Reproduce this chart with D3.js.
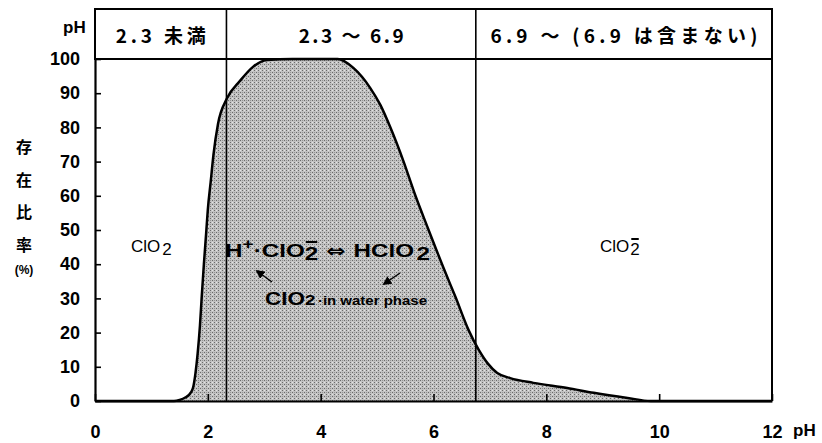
<!DOCTYPE html>
<html>
<head>
	<meta charset="utf-8">
	<title> ClO2 ratio </title>
	<script src="https://d3js.org/d3.v7.min.js"></script>
	<style>
		body { margin: 0; background: #fff; }
		svg { display: block; }
		text { font-family: "Liberation Sans", Arial, sans-serif; }
		.jp { font-family: "Noto Sans CJK JP", sans-serif; }
	</style>
</head>
<body>
	<svg width="822" height="443"></svg>
	<script type="text/javascript">
		// values
		let phValues    = [0, 1.0, 1.4, 1.5, 1.6, 1.7, 1.74, 1.78, 1.82, 1.86, 1.89, 1.93, 1.97, 2.0, 2.05, 2.1, 2.18, 2.34, 2.57, 2.8, 3.05, 3.5, 4.3, 4.58, 4.88, 5.06, 5.24, 5.47, 5.68, 5.89, 6.2, 6.39, 6.62, 6.8, 6.96, 7.13, 7.36, 7.77, 8.37, 8.84, 9.44, 9.85, 12];
		let ratioValues = [0, 0, 0, 0.3, 1, 2.5, 4, 8, 14, 22, 30, 40, 49, 56, 64, 72, 81, 88.5, 93.6, 97.7, 99.7, 100, 100, 97.4, 91.5, 86.5, 79.8, 70, 60, 51, 38, 30.4, 20.8, 15, 11, 8.2, 6.7, 5.3, 3.8, 2.4, 0.9, 0, 0];
		let xTicks = [0, 2, 4, 6, 8, 10, 12];
		let yTicks = [0, 10, 20, 30, 40, 50, 60, 70, 80, 90, 100];
		let regionBounds = [2.33, 6.75];
		let regionLabels = ["2.3 未満", "2.3 ～ 6.9", "6.9 ～ (6.9 は含まない)"];
		let regionLabelWidths = [90, 105, 267];
		let yTitleChars = ["存", "在", "比", "率"];

		let svg = d3.select("svg");
		let x = d3.scaleLinear().domain([0, 12]).range([95, 772]);
		let y = d3.scaleLinear().domain([0, 100]).range([401, 59]);
		let headerTop = 9;

		// halftone-ish fill
		let defs = svg.append("defs");
		let pat = defs.append("pattern").attr("id", "dots")
			.attr("patternUnits", "userSpaceOnUse").attr("width", 4).attr("height", 4);
		pat.append("rect").attr("width", 4).attr("height", 4).attr("fill", "#c3c3c3");
		pat.append("rect").attr("x", 0).attr("y", 0).attr("width", 1).attr("height", 1).attr("fill", "#6a6a6a");
		pat.append("rect").attr("x", 2).attr("y", 2).attr("width", 1).attr("height", 1).attr("fill", "#6a6a6a");
		pat.append("rect").attr("x", 2).attr("y", 0).attr("width", 1).attr("height", 1).attr("fill", "#969696");
		pat.append("rect").attr("x", 0).attr("y", 2).attr("width", 1).attr("height", 1).attr("fill", "#e4e4e4");

		let pts = phValues.map((p, i) => [p, ratioValues[i]]);

		// area
		svg.append("path")
			.datum(pts)
			.attr("fill", "url(#dots)")
			.attr("d", d3.area()
				.curve(d3.curveMonotoneX)
				.x(d => x(d[0]))
				.y0(y(0))
				.y1(d => y(d[1])));

		// curve
		svg.append("path")
			.datum(pts)
			.attr("fill", "none")
			.attr("stroke", "black")
			.attr("stroke-width", 2.5)
			.attr("d", d3.line()
				.curve(d3.curveMonotoneX)
				.x(d => x(d[0]))
				.y(d => y(d[1])));

		// header box and frame
		svg.append("rect")
			.attr("x", x(0)).attr("y", headerTop)
			.attr("width", x(12) - x(0)).attr("height", y(100) - headerTop)
			.attr("fill", "none").attr("stroke", "black").attr("stroke-width", 2);
		svg.append("line")
			.attr("x1", x(12)).attr("x2", x(12))
			.attr("y1", headerTop).attr("y2", y(0))
			.attr("stroke", "black").attr("stroke-width", 2);
		svg.selectAll(".bound").data(regionBounds).join("line")
			.attr("class", "bound")
			.attr("x1", d => x(d)).attr("x2", d => x(d))
			.attr("y1", headerTop).attr("y2", y(0))
			.attr("stroke", "black").attr("stroke-width", 1.6);

		let edges = [0].concat(regionBounds).concat([12]);
		svg.selectAll(".region").data(regionLabels).join("text")
			.attr("class", "region jp")
			.attr("x", (d, i) => (x(edges[i]) + x(edges[i + 1])) / 2 - regionLabelWidths[i] / 2)
			.attr("y", 43)
			.attr("textLength", (d, i) => regionLabelWidths[i])
			.attr("lengthAdjust", "spacing")
			.attr("font-size", 19)
			.attr("font-weight", 600)
			.text(d => d);

		// axes
		let xAxis = d3.axisBottom(x).tickValues(xTicks).tickSizeInner(-7).tickSizeOuter(0).tickPadding(24);
		let gx = svg.append("g").attr("transform", "translate(0," + y(0) + ")").call(xAxis);
		let yAxis = d3.axisLeft(y).tickValues(yTicks).tickSizeInner(-6).tickSizeOuter(0).tickPadding(15);
		let gy = svg.append("g").attr("transform", "translate(" + x(0) + ",0)").call(yAxis);
		[gx, gy].forEach(g => {
			g.select(".domain").attr("stroke-width", 2.2);
			g.selectAll(".tick line").attr("stroke-width", 1.6);
			g.selectAll(".tick text")
				.attr("font-family", "'Liberation Sans', Arial, sans-serif")
				.attr("font-weight", "bold").attr("font-size", 18).attr("fill", "black");
		});

		svg.append("text").attr("x", 63).attr("y", 33)
			.attr("font-weight", "bold").attr("font-size", 17).text("pH");
		svg.append("text").attr("x", 793).attr("y", 436)
			.attr("font-weight", "bold").attr("font-size", 17).text("pH");

		// y title
		svg.selectAll(".ytitle").data(yTitleChars).join("text")
			.attr("class", "ytitle jp")
			.attr("x", 24).attr("y", (d, i) => 153 + i * 32.5)
			.attr("text-anchor", "middle")
			.attr("font-weight", "bold").attr("font-size", 16)
			.text(d => d);
		svg.append("text").attr("x", 24).attr("y", 274)
			.attr("text-anchor", "middle").attr("font-weight", "bold").attr("font-size", 12)
			.text("(%)");

		// draws the small bar over one character of a text element
		function overbar(t, idx) {
			let r = t.node().getExtentOfChar(idx);
			svg.append("line")
				.attr("x1", r.x + 1).attr("x2", r.x + r.width - 1)
				.attr("y1", r.y - 1).attr("y2", r.y - 1)
				.attr("stroke", "black").attr("stroke-width", 2);
		}

		// species labels
		let t1 = svg.append("text").attr("x", 131).attr("y", 252).attr("font-size", 17);
		t1.append("tspan").text("ClO");
		t1.append("tspan").attr("dy", 3).attr("dx", 2).text("2");

		let t2 = svg.append("text").attr("x", 600).attr("y", 252).attr("font-size", 17);
		t2.append("tspan").text("ClO");
		t2.append("tspan").attr("dy", 3).attr("dx", 1).text("2");
		overbar(t2, 3);

		let t3 = svg.append("text").attr("x", 225).attr("y", 257)
			.attr("font-size", 19).attr("font-weight", "bold")
			.attr("textLength", 205).attr("lengthAdjust", "spacingAndGlyphs");
		t3.append("tspan").text("H");
		t3.append("tspan").attr("dy", -8).attr("font-size", 15).text("+");
		t3.append("tspan").attr("dy", 8).text("·ClO");
		t3.append("tspan").attr("dy", 3).text("2");
		t3.append("tspan").attr("dy", -3).attr("font-family", "DejaVu Sans").attr("font-size", 18).text(" ⇔ ");
		t3.append("tspan").text("HClO");
		t3.append("tspan").attr("dy", 3).attr("dx", 2).text("2");
		overbar(t3, 6);

		let t4 = svg.append("text").attr("x", 265).attr("y", 305)
			.attr("font-size", 18).attr("font-weight", "bold")
			.attr("textLength", 162).attr("lengthAdjust", "spacingAndGlyphs");
		t4.append("tspan").text("ClO");
		t4.append("tspan").attr("font-size", 15).text("2");
		t4.append("tspan").attr("font-size", 12).attr("dx", 2).text("·in water phase");

		// arrows
		defs.append("marker").attr("id", "ah")
			.attr("viewBox", "0 0 10 10").attr("refX", 8).attr("refY", 5)
			.attr("markerWidth", 6).attr("markerHeight", 6).attr("orient", "auto")
			.append("path").attr("d", "M0,0 L10,5 L0,10 z").attr("fill", "black");
		svg.append("line").attr("x1", 272).attr("y1", 282).attr("x2", 257).attr("y2", 271)
			.attr("stroke", "black").attr("stroke-width", 1.5).attr("marker-end", "url(#ah)");
		svg.append("line").attr("x1", 400).attr("y1", 273).attr("x2", 384).attr("y2", 284)
			.attr("stroke", "black").attr("stroke-width", 1.5).attr("marker-end", "url(#ah)");
	</script>
</body>
</html>
